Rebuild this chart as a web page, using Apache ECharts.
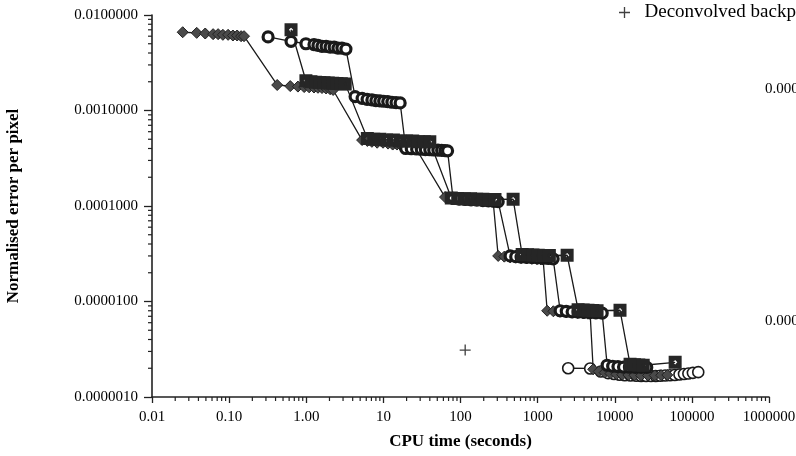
<!DOCTYPE html>
<html>
<head>
<meta charset="utf-8">
<script src="https://cdn.jsdelivr.net/npm/echarts@6/dist/echarts.min.js"></script>
<style>
  html, body { margin: 0; padding: 0; background: #fff; }
  #main { width: 796px; height: 456px; }
</style>
</head>
<body>
<div id="main"></div>
<script>
// tick labels
var xTickLabels = ['0.01', '0.10', '1.00', '10', '100', '1000', '10000', '100000', '1000000'];
var yTickLabels = ['0.0000010', '0.0000100', '0.0001000', '0.0010000', '0.0100000'];

// filled diamonds
var dX = [0.025, 0.038, 0.049, 0.062, 0.072, 0.083, 0.097, 0.112, 0.127, 0.143, 0.156,
  0.42, 0.62, 0.78, 0.94, 1.09, 1.26, 1.42, 1.60, 1.81, 2.04, 2.23,
  5.3, 6.2, 7.1, 8.3, 9.9, 11.5, 13.2, 15.0, 17.0, 19.5, 22.5, 26.0,
  63, 76, 90, 108, 128, 152, 180, 212, 245, 265,
  308, 370, 440, 520, 610, 720, 840, 980, 1100, 1178,
  1330, 1600, 1950, 2350, 2800, 3300, 3900, 4500, 4800,
  5250, 6200, 7400, 8800, 10500, 12500, 15000, 18000, 22000, 27000, 33000, 40000, 48000];
var dY = [0.0066, 0.0065, 0.0064, 0.0063, 0.0063, 0.0062, 0.0062, 0.0061, 0.0061, 0.0060, 0.0060,
  0.00185, 0.00180, 0.00178, 0.00176, 0.00175, 0.00174, 0.00173, 0.00172, 0.00170, 0.00167, 0.00164,
  0.00049, 0.00048, 0.00047, 0.00046, 0.00046, 0.00045, 0.00044, 0.00044, 0.00043, 0.00042, 0.00042, 0.00041,
  0.000124, 0.000121, 0.000119, 0.000118, 0.000117, 0.000116, 0.000115, 0.000114, 0.000113, 0.000112,
  3.0e-5, 2.95e-5, 2.9e-5, 2.88e-5, 2.85e-5, 2.82e-5, 2.8e-5, 2.78e-5, 2.76e-5, 2.75e-5,
  8.0e-6, 7.9e-6, 7.8e-6, 7.7e-6, 7.65e-6, 7.6e-6, 7.5e-6, 7.45e-6, 7.4e-6,
  1.95e-6, 1.85e-6, 1.80e-6, 1.76e-6, 1.73e-6, 1.71e-6, 1.70e-6, 1.69e-6, 1.68e-6, 1.68e-6, 1.68e-6, 1.69e-6, 1.70e-6];

// dotted circles
var cX = [0.32, 0.635, 0.99, 1.26, 1.42, 1.60, 1.81, 2.04, 2.30, 2.58, 2.90, 3.27,
  4.3, 5.3, 6.15, 7.1, 8.0, 9.0, 10.1, 11.4, 12.9, 14.6, 16.5,
  19.5, 23, 27, 31, 35, 40, 45, 51, 57, 63, 68,
  80, 96, 115, 137, 163, 195, 230, 270, 308,
  440, 520, 610, 720, 850, 1000, 1170, 1380, 1590,
  1960, 2350, 2800, 3350, 4000, 4800, 5700, 6870,
  7970, 9400, 11000, 13000, 15500, 18500, 22000, 26000];
var cY = [0.0059, 0.0053, 0.0050, 0.0049, 0.0048, 0.0047, 0.0047, 0.0046, 0.0046, 0.0045, 0.0045, 0.0044,
  0.00140, 0.00134, 0.00131, 0.00129, 0.00127, 0.00126, 0.00125, 0.00124, 0.00122, 0.00121, 0.00120,
  0.00040, 0.000398, 0.000395, 0.000393, 0.00039, 0.000388, 0.000386, 0.000384, 0.000382, 0.00038, 0.000378,
  0.000120, 0.000118, 0.000117, 0.000116, 0.000115, 0.000114, 0.000113, 0.000112, 0.000111,
  3.0e-5, 2.95e-5, 2.92e-5, 2.9e-5, 2.88e-5, 2.86e-5, 2.84e-5, 2.82e-5, 2.8e-5,
  8.0e-6, 7.9e-6, 7.8e-6, 7.75e-6, 7.7e-6, 7.65e-6, 7.6e-6, 7.55e-6,
  2.15e-6, 2.1e-6, 2.08e-6, 2.06e-6, 2.05e-6, 2.04e-6, 2.04e-6, 2.04e-6];

// hatched squares
var sX = [0.635,
  0.99, 1.15, 1.32, 1.50, 1.70, 1.93, 2.20, 2.50, 2.85, 3.20,
  6.2, 7.5, 9.0, 11, 13.5, 16.5, 20, 24, 28.5, 34, 40,
  76, 92, 112, 135, 162, 195, 235, 280, 481,
  630, 740, 870, 1020, 1200, 1420, 2414,
  3350, 3900, 4500, 5200, 5900, 11700,
  15800, 18000, 20500, 23400, 60700];
var sY = [0.0070,
  0.00205, 0.00200, 0.00198, 0.00196, 0.00195, 0.00194, 0.00193, 0.00192, 0.00191, 0.00190,
  0.00051, 0.00050, 0.00050, 0.00049, 0.00049, 0.00048, 0.00048, 0.00048, 0.00047, 0.00047, 0.00047,
  0.000121, 0.000120, 0.000119, 0.000119, 0.000118, 0.000118, 0.000117, 0.000117, 0.000118,
  3.1e-5, 3.08e-5, 3.06e-5, 3.05e-5, 3.04e-5, 3.03e-5, 3.05e-5,
  8.2e-6, 8.15e-6, 8.1e-6, 8.05e-6, 8.0e-6, 8.1e-6,
  2.2e-6, 2.18e-6, 2.16e-6, 2.15e-6, 2.31e-6];

// open circles
var oX = [2490, 4800, 6600, 8200, 9800, 11500, 13500, 16000, 19000, 22000, 25500,
  29500, 34000, 39000, 45000, 52000, 60000, 69000, 79000, 90000, 103000, 121000];
var oY = [2.0e-6, 1.99e-6, 1.85e-6, 1.78e-6, 1.74e-6, 1.71e-6, 1.69e-6, 1.68e-6, 1.67e-6, 1.66e-6, 1.66e-6,
  1.66e-6, 1.66e-6, 1.67e-6, 1.68e-6, 1.69e-6, 1.70e-6, 1.72e-6, 1.74e-6, 1.76e-6, 1.79e-6, 1.82e-6];

// deconvolved backprojection
var bX = [115];
var bY = [3.1e-6];

function zip(xs, ys) {
  return xs.map(function (x, i) { return [x, ys[i]]; });
}

var serif = 'Liberation Serif';
var xMin = 0.01, xMax = 1000000, yMin = 0.000001, yMax = 0.01;

// minor tick positions (2..9 in each decade)
var xMinor = [], yMinor = [];
for (var k = -2; k < 6; k++) {
  for (var m = 2; m < 10; m++) xMinor.push([m * Math.pow(10, k), yMin]);
}
for (var k2 = -6; k2 < -2; k2++) {
  for (var m2 = 2; m2 < 10; m2++) yMinor.push([xMin, m2 * Math.pow(10, k2)]);
}

var myChart = echarts.init(document.getElementById('main'));

var lineStyle = { color: '#1a1a1a', width: 1.3 };
// square with a small white diamond hole in the middle
var hatchSquare = 'path://M0,0H12V12H0Z M4,6L6,8L8,6L6,4Z';

var option = {
  animation: false,
  backgroundColor: '#fff',
  textStyle: { fontFamily: serif },
  legend: {
    data: ['Deconvolved backprojection'],
    left: 614,
    top: -2,
    itemWidth: 30,
    itemHeight: 11,
    itemGap: 10,
    textStyle: { fontFamily: serif, fontSize: 19, color: '#000' }
  },
  grid: { left: 152, right: 27, top: 15, bottom: 59, containLabel: false, outerBoundsMode: 'none' },
  xAxis: {
    type: 'log',
    logBase: 10,
    min: xMin,
    max: xMax,
    name: 'CPU time (seconds)',
    nameLocation: 'middle',
    nameGap: 36,
    nameTextStyle: { fontFamily: serif, fontSize: 17, fontWeight: 'bold', color: '#000' },
    axisLine: { lineStyle: { color: '#222', width: 1.6 } },
    axisTick: { length: 6, lineStyle: { color: '#222', width: 1.3 } },
    axisLabel: {
      margin: 13,
      fontFamily: serif,
      fontSize: 15,
      color: '#000',
      formatter: function (v) { return xTickLabels[Math.round(Math.log10(v)) + 2]; }
    },
    splitLine: { show: false }
  },
  yAxis: {
    type: 'log',
    logBase: 10,
    min: yMin,
    max: yMax,
    name: 'Normalised error per pixel',
    nameLocation: 'middle',
    nameGap: 130,
    nameTextStyle: { fontFamily: serif, fontSize: 17, fontWeight: 'bold', color: '#000' },
    axisLine: { lineStyle: { color: '#222', width: 1.6 } },
    axisTick: { length: 8, lineStyle: { color: '#222', width: 1.3 } },
    axisLabel: {
      margin: 14,
      fontFamily: serif,
      fontSize: 15,
      color: '#000',
      formatter: function (v) { return yTickLabels[Math.round(Math.log10(v)) + 6]; }
    },
    splitLine: { show: false }
  },
  graphic: [
    { type: 'text', left: 765, top: 82, style: { text: '0.000', font: '15px "Liberation Serif"', fill: '#000' } },
    { type: 'text', left: 765, top: 314, style: { text: '0.000', font: '15px "Liberation Serif"', fill: '#000' } }
  ],
  series: [
    {
      type: 'custom',
      silent: true,
      clip: false,
      data: xMinor,
      renderItem: function (params, api) {
        var p = api.coord([api.value(0), api.value(1)]);
        return { type: 'line', shape: { x1: p[0], y1: p[1], x2: p[0], y2: p[1] + 4 }, style: { stroke: '#222', lineWidth: 1.2 } };
      }
    },
    {
      type: 'custom',
      silent: true,
      clip: false,
      data: yMinor,
      renderItem: function (params, api) {
        var p = api.coord([api.value(0), api.value(1)]);
        return { type: 'line', shape: { x1: p[0] - 4, y1: p[1], x2: p[0], y2: p[1] }, style: { stroke: '#222', lineWidth: 1.2 } };
      }
    },
    {
      name: 'open',
      type: 'line',
      data: zip(oX, oY),
      symbol: 'circle',
      symbolSize: 11,
      showAllSymbol: true,
      lineStyle: lineStyle,
      itemStyle: { color: '#fff', borderColor: '#1a1a1a', borderWidth: 1.6 }
    },
    {
      name: 'diamond',
      type: 'line',
      data: zip(dX, dY),
      symbol: 'diamond',
      symbolSize: [11, 11],
      showAllSymbol: true,
      lineStyle: lineStyle,
      itemStyle: { color: '#4a4a4a', borderColor: '#222', borderWidth: 1 }
    },
    {
      name: 'circle',
      type: 'line',
      data: zip(cX, cY),
      symbol: 'circle',
      symbolSize: 10,
      showAllSymbol: true,
      lineStyle: lineStyle,
      itemStyle: { color: '#fff', borderColor: '#1a1a1a', borderWidth: 3.2 }
    },
    {
      name: 'square',
      type: 'line',
      data: zip(sX, sY),
      symbol: hatchSquare,
      symbolSize: 13,
      showAllSymbol: true,
      lineStyle: lineStyle,
      itemStyle: { color: '#262626', borderWidth: 0 }
    },
    {
      name: 'Deconvolved backprojection',
      type: 'scatter',
      data: zip(bX, bY),
      symbol: 'path://M4.4,0h1.2v4.4h4.4v1.2h-4.4v4.4h-1.2v-4.4h-4.4v-1.2h4.4z',
      symbolSize: 11,
      itemStyle: { color: '#111' }
    }
  ]
};

myChart.setOption(option);
</script>
</body>
</html>
